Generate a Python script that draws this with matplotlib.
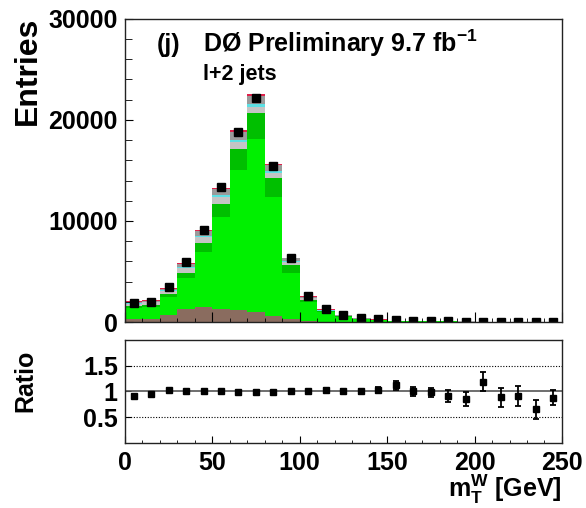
import matplotlib
matplotlib.use("Agg")
import matplotlib.pyplot as plt
import numpy as np

# bin edges in GeV, 10 GeV bins from 0 to 250
edges = np.arange(0, 251, 10)
centers = edges[:-1] + 5

# stacked prediction, bottom to top
brown = [350, 340, 660, 1250, 1450, 1300, 1150, 1000, 600, 280, 100, 50, 25, 12, 8, 5, 4, 3, 2, 2, 1, 1, 1, 1, 1]
bright_green = [1050, 1200, 1850, 3150, 5500, 9050, 13880, 17080, 11790, 4580, 1880, 900, 490, 260, 185, 110, 87, 70, 56, 47, 27, 27, 22, 18, 17]
dark_green = [150, 150, 250, 470, 830, 1310, 2090, 2630, 1820, 760, 250, 120, 65, 35, 25, 15, 12, 10, 8, 6, 4, 4, 3, 3, 2]
light_gray = [250, 250, 320, 490, 600, 700, 650, 540, 550, 300, 130, 70, 40, 20, 14, 9, 7, 6, 4, 4, 2, 2, 2, 1, 1]
cyan = [40, 40, 60, 100, 140, 200, 270, 320, 220, 90, 40, 20, 10, 6, 4, 3, 2, 2, 1, 1, 1, 1, 1, 1, 1]
gray = [150, 130, 150, 330, 480, 570, 800, 830, 540, 300, 110, 70, 40, 22, 15, 8, 6, 5, 5, 4, 2, 1, 1, 1, 1]
red = [50, 40, 40, 60, 100, 140, 190, 140, 120, 60, 30, 20, 10, 5, 4, 2, 2, 1, 1, 1, 1, 1, 0, 0, 0]

# data
data = [1880, 2000, 3430, 5900, 9100, 13400, 18840, 22150, 15480, 6370, 2570, 1290, 690, 360, 260,
        170, 120, 95, 70, 55, 45, 33, 27, 16, 20]

# data / prediction
ratio = [0.92, 0.955, 1.03, 1.01, 1.0, 1.01, 0.99, 0.98, 0.99, 1.0, 1.01, 1.03, 1.01, 1.0, 1.02,
         1.115, 1.0, 0.98, 0.91, 0.85, 1.19, 0.885, 0.91, 0.65, 0.88]
ratio_err = [0.01, 0.01, 0.01, 0.01, 0.01, 0.01, 0.01, 0.01, 0.01, 0.01, 0.02, 0.03, 0.04, 0.05, 0.06,
             0.08, 0.09, 0.09, 0.12, 0.13, 0.18, 0.18, 0.2, 0.18, 0.15]

layers = [brown, bright_green, dark_green, light_gray, cyan, gray, red]
colors = ["#8a6c5f", "#00f000", "#00bf00", "#c4c4c4", "#5ce0e4", "#9a9a9a", "#e0204a"]

plt.rcParams["font.family"] = ["Liberation Sans", "DejaVu Sans"]
plt.rcParams["font.weight"] = "bold"
plt.rcParams["mathtext.fontset"] = "custom"
plt.rcParams["mathtext.rm"] = "Liberation Sans:bold"
plt.rcParams["mathtext.it"] = "Liberation Sans:bold"
plt.rcParams["mathtext.bf"] = "Liberation Sans:bold"

fig = plt.figure(figsize=(5.86, 5.08), dpi=100)
ax = fig.add_axes([0.213, 0.366, 0.746, 0.597])
axr = fig.add_axes([0.213, 0.128, 0.746, 0.203])

# stacked histogram
bottom = np.zeros(len(centers))
for vals, c in zip(layers, colors):
    ax.bar(edges[:-1], vals, width=10, bottom=bottom, align="edge", color=c, linewidth=0)
    bottom = bottom + np.array(vals)

ax.plot(centers, data, "s", color="black", markersize=5.5)

ax.set_xlim(0, 250)
ax.set_ylim(0, 30000)
ax.set_yticks([0, 10000, 20000, 30000])
ax.set_yticks(np.arange(0, 30001, 2000), minor=True)
ax.set_xticks(np.arange(0, 251, 50))
ax.set_xticks(np.arange(0, 251, 10), minor=True)
ax.set_xticklabels([])
ax.tick_params(axis="both", which="both", direction="in", right=False, top=False)
ax.tick_params(axis="y", which="major", length=6, labelsize=18, pad=5)
ax.tick_params(axis="y", which="minor", length=5)
ax.tick_params(axis="x", which="major", length=7)
ax.tick_params(axis="x", which="minor", length=3)
ax.set_ylabel("Entries", fontsize=23, fontweight="bold", loc="top")
ax.yaxis.set_label_coords(-0.188, 1.007)

ax.text(0.073, 0.891, "(j)", transform=ax.transAxes, fontsize=18, fontweight="bold", va="baseline")
ax.text(0.178, 0.891, "D\u00d8 Preliminary 9.7 fb$^{-1}$", transform=ax.transAxes,
        fontsize=18, fontweight="bold", va="baseline")
ax.text(0.178, 0.799, "l+2 jets", transform=ax.transAxes, fontsize=15.5, fontweight="bold",
        va="baseline")

# ratio panel
axr.axhline(1.0, color="#555555", linewidth=1.2)
axr.axhline(1.5, color="black", linewidth=0.8, linestyle=(0, (1, 1.5)))
axr.axhline(0.5, color="black", linewidth=0.8, linestyle=(0, (1, 1.5)))
axr.errorbar(centers, ratio, yerr=ratio_err, fmt="s", color="black", markersize=4.5,
             capsize=2.5, elinewidth=1.3, capthick=1.3)

axr.set_xlim(0, 250)
axr.set_ylim(0, 2.0)
axr.set_yticks([0.5, 1, 1.5])
axr.set_yticklabels(["0.5", "1", "1.5"])
axr.set_xticks(np.arange(0, 251, 50))
axr.set_xticks(np.arange(0, 251, 10), minor=True)
axr.tick_params(axis="both", which="both", direction="in", right=False, top=False)
axr.tick_params(axis="y", which="major", length=4, labelsize=18, pad=5)
axr.tick_params(axis="x", which="major", length=5, labelsize=18, pad=6)
axr.tick_params(axis="x", which="minor", length=2.5)
axr.set_ylabel("Ratio", fontsize=18, fontweight="bold")
axr.yaxis.set_label_coords(-0.199, 0.60)
axr.set_xlabel(r"$\mathrm{m}_\mathrm{T}^\mathrm{W}$ [GeV]", fontsize=18, fontweight="bold",
               loc="right")
axr.xaxis.set_label_coords(1.0, -0.29)

for a in (ax, axr):
    for s in a.spines.values():
        s.set_linewidth(1.0)
        s.set_color("#222222")

fig.savefig("out.png", dpi=100)
